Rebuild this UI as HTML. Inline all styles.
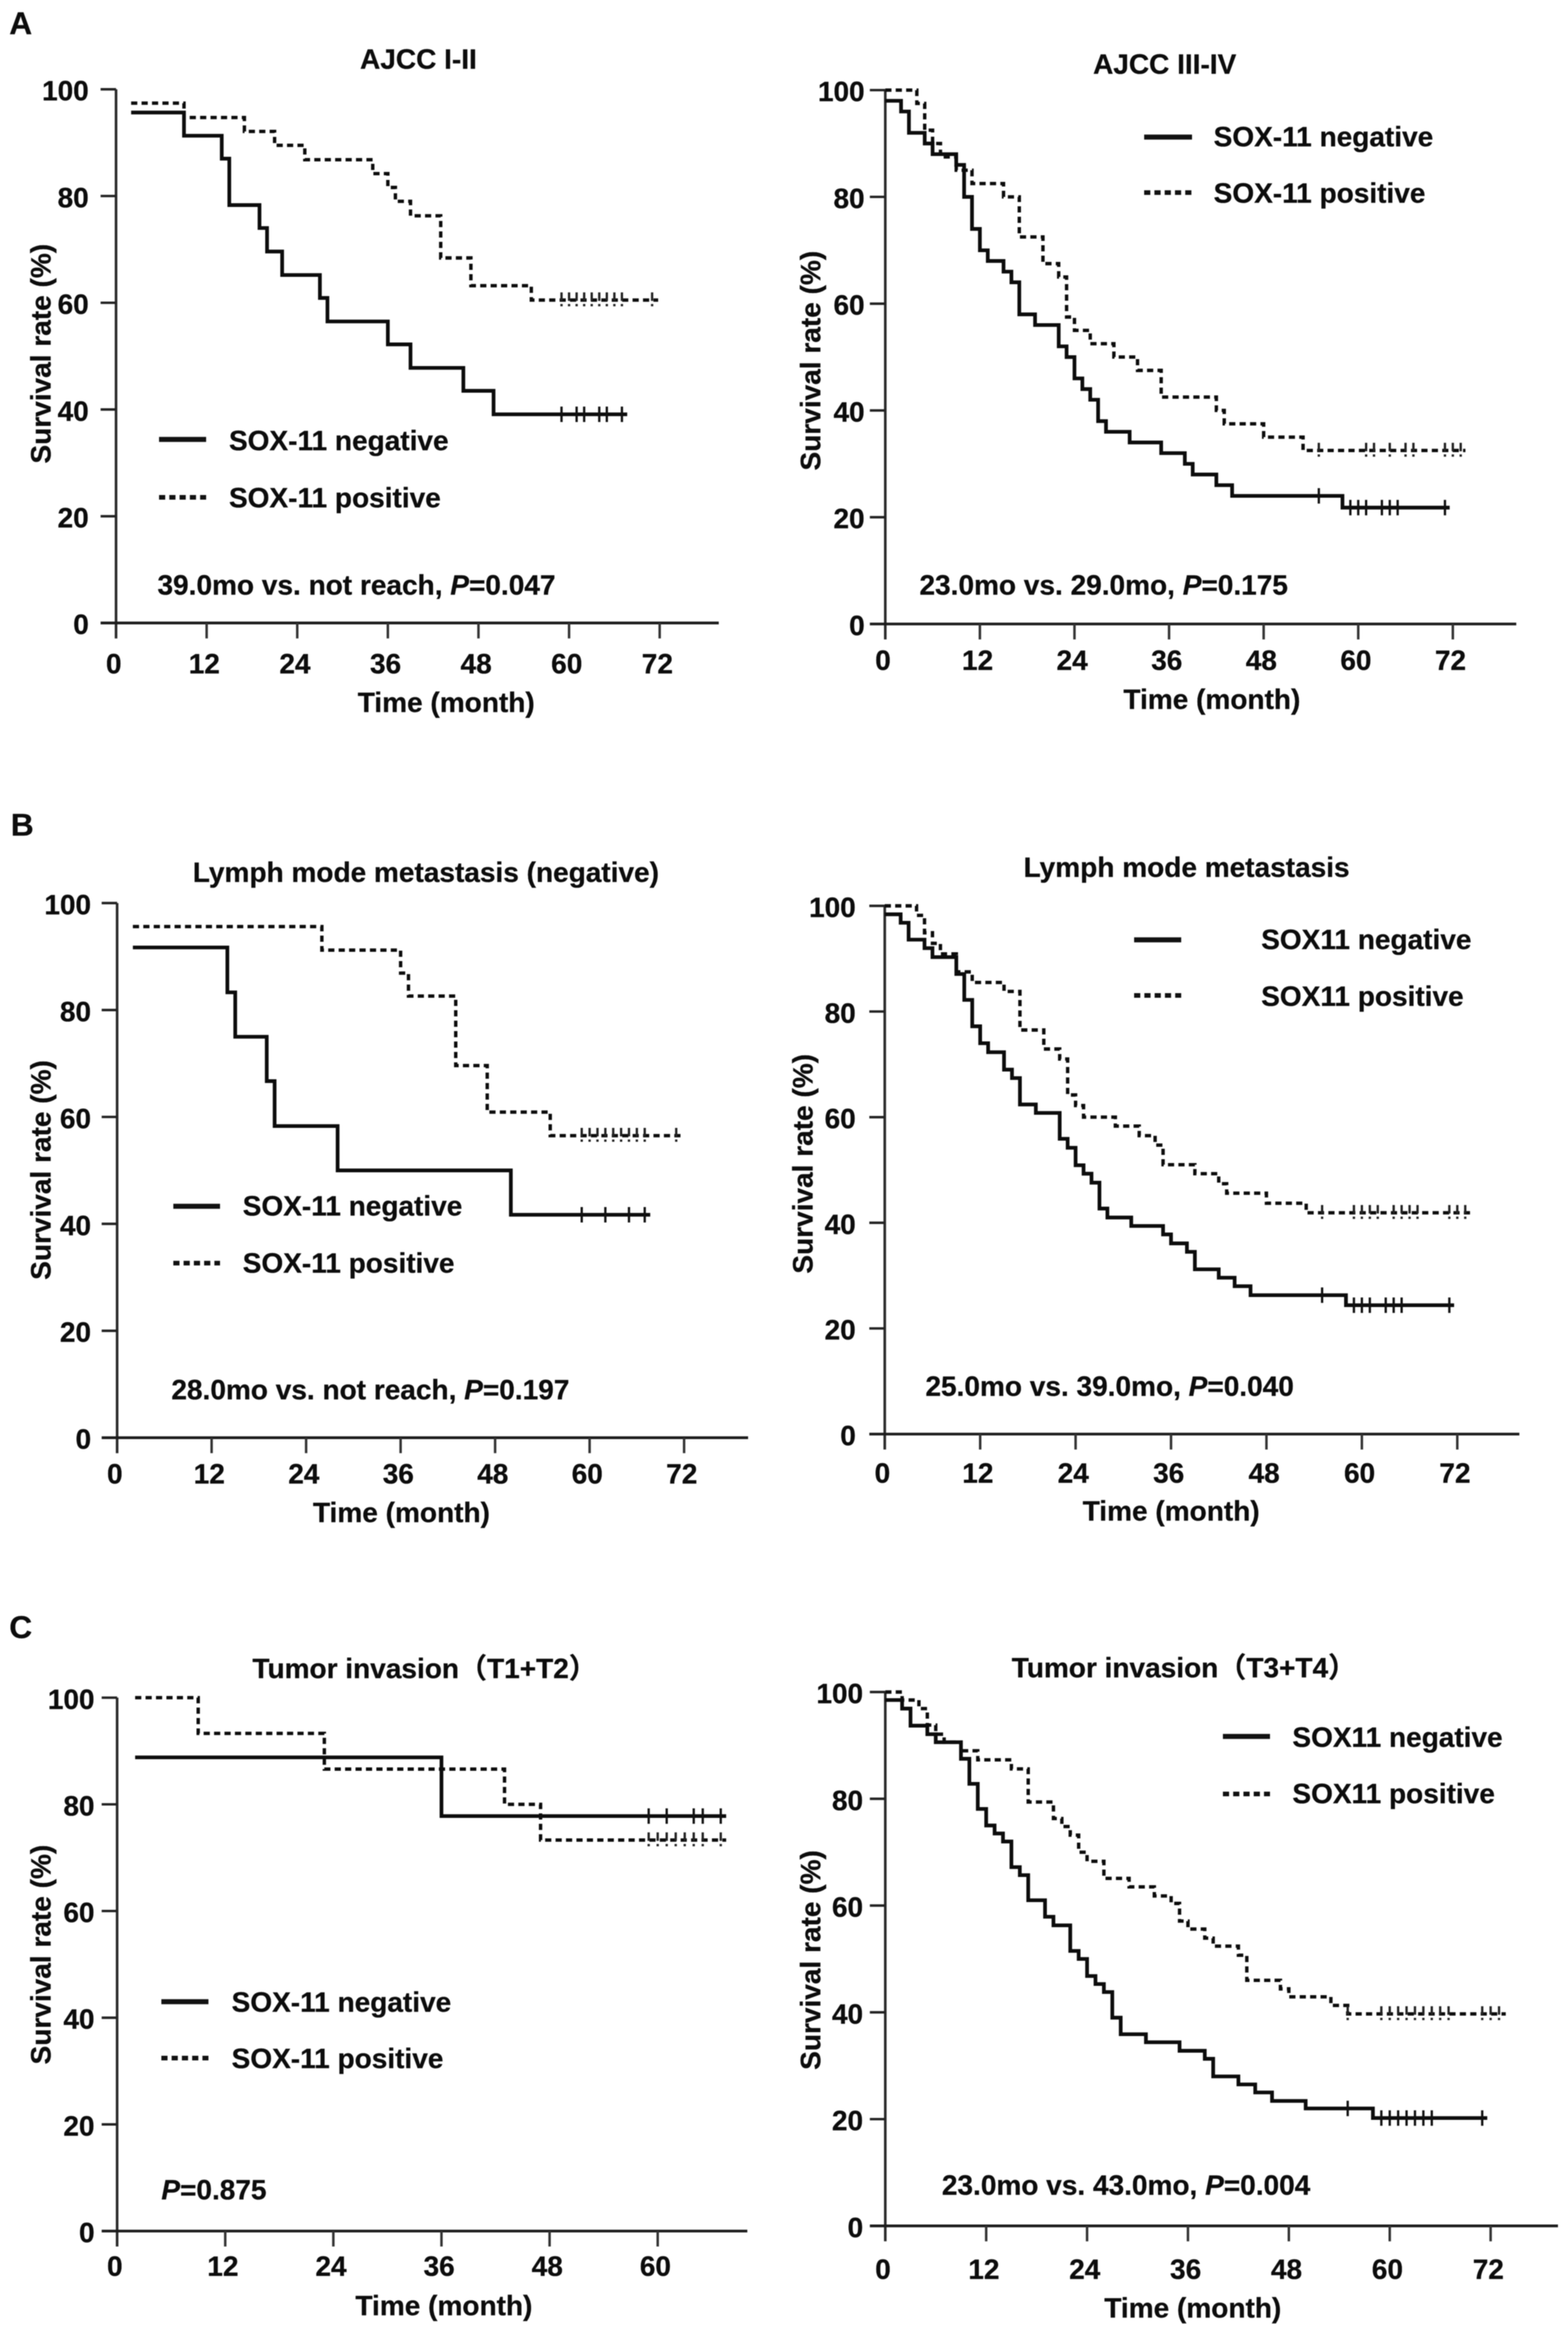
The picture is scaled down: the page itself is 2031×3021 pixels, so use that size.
<!DOCTYPE html>
<html lang="en">
<head>
<meta charset="utf-8">
<title>SOX-11 survival curves</title>
<style>
html,body{margin:0;padding:0;background:#fff;}
svg{display:block;filter:blur(.45px);}
text{font-family:"Liberation Sans","Noto Sans CJK SC",sans-serif;font-weight:700;font-size:36.3px;fill:#0c0c0c;stroke:#0c0c0c;stroke-width:.35px;}
.letter{font-size:41px;}
</style>
</head>
<body>
<svg id="figure" xmlns="http://www.w3.org/2000/svg" width="2031" height="3021" viewBox="0 0 2031 3021">
<rect width="2031" height="3021" fill="#fff"/>

<text class="letter" x="12" y="44">A</text>
<text class="letter" x="14" y="1082">B</text>
<text class="letter" x="12" y="2121">C</text>

<g id="a1">
<text x="542" y="89" text-anchor="middle">AJCC I-II</text>
<text x="578" y="922" text-anchor="middle">Time (month)</text>
<text transform="translate(65.7,458) rotate(-90)" text-anchor="middle">Survival rate (%)</text>
<line x1="206" x2="267" y1="569" y2="569" stroke="#111" stroke-width="6.5"/>
<text x="296.6" y="583">SOX-11 negative</text>
<line x1="206" x2="267" y1="644" y2="644" stroke="#111" stroke-width="6" stroke-dasharray="8 5.3"/>
<text x="296.6" y="657">SOX-11 positive</text>
<text x="204" y="770">39.0mo vs. not reach, <tspan font-style="italic">P</tspan>=0.047</text>
</g>

<g id="a2">
<text x="1508.6" y="95.6" text-anchor="middle">AJCC III-IV</text>
<text x="1569.7" y="918" text-anchor="middle">Time (month)</text>
<text transform="translate(1062.5,467) rotate(-90)" text-anchor="middle">Survival rate (%)</text>
<line x1="1482" x2="1544" y1="177.5" y2="177.5" stroke="#111" stroke-width="6.5"/>
<text x="1572" y="189.4">SOX-11 negative</text>
<line x1="1482" x2="1544" y1="249.4" y2="249.4" stroke="#111" stroke-width="6" stroke-dasharray="8 5.3"/>
<text x="1572" y="262.5">SOX-11 positive</text>
<text x="1191" y="770">23.0mo vs. 29.0mo, <tspan font-style="italic">P</tspan>=0.175</text>
</g>

<g id="b1">
<text x="551.7" y="1142" text-anchor="middle">Lymph mode metastasis (negative)</text>
<text x="520" y="1971" text-anchor="middle">Time (month)</text>
<text transform="translate(65.7,1515) rotate(-90)" text-anchor="middle">Survival rate (%)</text>
<line x1="224.5" x2="285" y1="1562" y2="1562" stroke="#111" stroke-width="6.5"/>
<text x="314.4" y="1574">SOX-11 negative</text>
<line x1="224.5" x2="285" y1="1635.6" y2="1635.6" stroke="#111" stroke-width="6" stroke-dasharray="8 5.3"/>
<text x="314.4" y="1648">SOX-11 positive</text>
<text x="222" y="1812">28.0mo vs. not reach, <tspan font-style="italic">P</tspan>=0.197</text>
</g>

<g id="b2">
<text x="1537" y="1135.6" text-anchor="middle">Lymph mode metastasis</text>
<text x="1517" y="1969" text-anchor="middle">Time (month)</text>
<text transform="translate(1052.6,1507) rotate(-90)" text-anchor="middle">Survival rate (%)</text>
<line x1="1469" x2="1530" y1="1217" y2="1217" stroke="#111" stroke-width="6.5"/>
<text x="1633.6" y="1229">SOX11 negative</text>
<line x1="1469" x2="1530" y1="1289" y2="1289" stroke="#111" stroke-width="6" stroke-dasharray="8 5.3"/>
<text x="1633.6" y="1302.5">SOX11 positive</text>
<text x="1198.7" y="1807.5">25.0mo vs. 39.0mo, <tspan font-style="italic">P</tspan>=0.040</text>
</g>

<g id="c1">
<text x="327" y="2173">Tumor invasion（T1+T2）</text>
<text x="575" y="2998" text-anchor="middle">Time (month)</text>
<text transform="translate(65.7,2531) rotate(-90)" text-anchor="middle">Survival rate (%)</text>
<line x1="209" x2="270" y1="2592" y2="2592" stroke="#111" stroke-width="6.5"/>
<text x="300" y="2605">SOX-11 negative</text>
<line x1="209" x2="270" y1="2665" y2="2665" stroke="#111" stroke-width="6" stroke-dasharray="8 5.3"/>
<text x="300" y="2678">SOX-11 positive</text>
<text x="209" y="2848"><tspan font-style="italic">P</tspan>=0.875</text>
</g>

<g id="c2">
<text x="1310.5" y="2172">Tumor invasion（T3+T4）</text>
<text x="1545" y="3001" text-anchor="middle">Time (month)</text>
<text transform="translate(1062.5,2538) rotate(-90)" text-anchor="middle">Survival rate (%)</text>
<line x1="1584" x2="1645" y1="2248.5" y2="2248.5" stroke="#111" stroke-width="6.5"/>
<text x="1674" y="2262">SOX11 negative</text>
<line x1="1584" x2="1645" y1="2323" y2="2323" stroke="#111" stroke-width="6" stroke-dasharray="8 5.3"/>
<text x="1674" y="2335">SOX11 positive</text>
<text x="1220" y="2842">23.0mo vs. 43.0mo, <tspan font-style="italic">P</tspan>=0.004</text>
</g>
</svg>

<script>
// Tick labels
const yTicks = [0, 20, 40, 60, 80, 100];
const xTicks72 = [0, 12, 24, 36, 48, 60, 72];
const xTicks60 = [0, 12, 24, 36, 48, 60];

// Panel A, AJCC I-II
const a1NegTimes = [2, 9, 14, 15, 19, 20, 22, 27, 28, 36, 39, 46, 50, 67.7];
const a1NegRates = [95.65, 91.3, 87, 78.3, 74, 69.6, 65.2, 60.9, 56.5, 52.2, 47.8, 43.5, 39.1, 39.1];
const a1NegCensors = [59, 61, 62, 64, 65, 67];
const a1PosTimes = [2, 9, 17, 21, 25, 34, 36, 37, 39, 43, 47, 55, 71.8];
const a1PosRates = [97.4, 94.7, 92.1, 89.5, 86.8, 84.2, 81.6, 79, 76.3, 68.4, 63.2, 60.5, 60.5];
const a1PosCensors = [59, 60, 61, 62, 63, 64, 65, 66, 67, 71];

// Panel A, AJCC III-IV
const a2NegTimes = [0, 2, 3, 5, 6, 9, 10, 11, 12, 13, 15, 16, 17, 19, 22, 23, 24, 25, 26, 27, 28, 31, 35, 38, 39, 42, 44, 58, 71.6];
const a2NegRates = [98, 96, 92, 90, 88, 86, 80, 74, 70, 68, 66, 64, 58, 56, 52, 50, 46, 44, 42, 38, 36, 34, 32, 30, 28, 26, 24, 21.8, 21.8];
const a2NegCensors = [55, 59, 60, 61, 63, 64, 65, 71];
const a2PosTimes = [0, 4, 5, 6, 7, 9, 11, 15, 17, 20, 22, 23, 24, 26, 29, 32, 35, 42, 43, 48, 53, 73.6];
const a2PosRates = [100, 97.5, 92.5, 90, 87.5, 85, 82.5, 80, 72.5, 67.5, 65, 57.5, 55, 52.5, 50, 47.5, 42.5, 40, 37.5, 35, 32.5, 32.5];
const a2PosCensors = [55, 61, 62, 64, 66, 67, 71, 72, 73];

// Panel B, lymph node negative
const b1NegTimes = [2, 14, 15, 19, 20, 28, 50, 67.7];
const b1NegRates = [91.7, 83.3, 75, 66.7, 58.3, 50, 41.7, 41.7];
const b1NegCensors = [59, 62, 65, 67];
const b1PosTimes = [2, 26, 36, 37, 43, 47, 55, 71.9];
const b1PosRates = [95.6, 91.2, 86.9, 82.6, 69.6, 60.9, 56.5, 56.5];
const b1PosCensors = [59, 60, 61, 62, 63, 64, 65, 66, 67, 71];

// Panel B, lymph node metastasis
const b2NegTimes = [0, 2, 3, 5, 6, 9, 10, 11, 12, 13, 15, 16, 17, 19, 22, 23, 24, 25, 26, 27, 28, 31, 35, 36, 38, 39, 42, 44, 46, 58, 71.6];
const b2NegRates = [98.4, 96.8, 93.6, 92, 90.3, 87.1, 82.2, 77.2, 74, 72.3, 69, 67.4, 62.4, 60.8, 55.9, 54.2, 50.9, 49.3, 47.6, 42.7, 41, 39.4, 37.8, 36.1, 34.5, 31.2, 29.6, 28, 26.3, 24.4, 24.4];
const b2NegCensors = [55, 59, 60, 61, 63, 64, 65, 71];
const b2PosTimes = [0, 4, 5, 6, 7, 9, 11, 15, 17, 20, 22, 23, 24, 25, 29, 32, 34, 35, 39, 42, 43, 48, 53, 73.7];
const b2PosRates = [100, 98.2, 94.9, 92.9, 90.9, 87.5, 85.5, 83.8, 76.5, 72.9, 71, 64.2, 62.2, 60, 58.3, 56.5, 54.7, 51, 49.3, 47.4, 45.6, 43.7, 41.9, 41.9];
const b2PosCensors = [55, 59, 60, 61, 62, 64, 65, 66, 67, 71, 72, 73];

// Panel C, T1+T2
const c1NegTimes = [2, 36, 67.6];
const c1NegRates = [88.8, 77.8, 77.8];
const c1NegCensors = [59, 61, 64, 65, 67];
const c1PosTimes = [2, 9, 23, 43, 47, 67.6];
const c1PosRates = [100, 93.3, 86.6, 80, 73.3, 73.3];
const c1PosCensors = [59, 60, 61, 62, 63, 64, 65, 67];

// Panel C, T3+T4
const c2NegTimes = [0, 2, 3, 5, 6, 9, 10, 11, 12, 13, 14, 15, 16, 17, 19, 20, 22, 23, 24, 25, 26, 27, 28, 31, 35, 38, 39, 42, 44, 46, 50, 58, 71.6];
const c2NegRates = [98.5, 96.9, 93.7, 92.1, 90.6, 87.5, 82.8, 78.1, 75, 73.5, 72, 67.2, 65.7, 61, 57.9, 56.3, 51.5, 50, 46.8, 45.3, 43.8, 39, 35.9, 34.4, 32.8, 31.3, 28, 26.5, 25, 23.4, 22, 20.2, 20.2];
const c2NegCensors = [55, 59, 60, 61, 62, 63, 64, 65, 71];
const c2PosTimes = [0, 2, 4, 5, 6, 7, 9, 11, 15, 17, 20, 21, 22, 23, 24, 26, 29, 32, 34, 35, 36, 38, 39, 42, 43, 47, 48, 53, 55, 73.8];
const c2PosRates = [100, 98.5, 96.9, 93.8, 92.1, 90.6, 89, 87.3, 85.6, 79.4, 76.3, 74.8, 73.2, 70, 68.3, 65.1, 63.5, 61.8, 60.4, 57.1, 55.6, 53.9, 52.4, 50.7, 46, 44.4, 42.9, 41.3, 39.7, 39.7];
const c2PosCensors = [55, 59, 60, 61, 62, 63, 64, 65, 66, 67, 71, 72, 73];

// Pixel geometry of each plot area, kept apart from the data
const layouts = {
  a1: {x0: 150.3, perMonth: 9.78, xEnd: 931, y100: 115.6, y0: 806.7, labelRight: 115, xLabelY: 872},
  a2: {x0: 1146.7, perMonth: 10.21, xEnd: 1964, y100: 116.7, y0: 808, labelRight: 1120, xLabelY: 867.5},
  b1: {x0: 151.7, perMonth: 10.2, xEnd: 969, y100: 1169.4, y0: 1861.7, labelRight: 118, xLabelY: 1921},
  b2: {x0: 1146, perMonth: 10.3, xEnd: 1968, y100: 1173, y0: 1857, labelRight: 1108.5, xLabelY: 1920},
  c1: {x0: 151.7, perMonth: 11.67, xEnd: 968, y100: 2198.3, y0: 2889, labelRight: 122.5, xLabelY: 2947},
  c2: {x0: 1146.7, perMonth: 10.89, xEnd: 2018, y100: 2191, y0: 2882.3, labelRight: 1118, xLabelY: 2951}
};

const panelData = {
  a1: {ticks: xTicks72, neg: [a1NegTimes, a1NegRates, a1NegCensors], pos: [a1PosTimes, a1PosRates, a1PosCensors]},
  a2: {ticks: xTicks72, neg: [a2NegTimes, a2NegRates, a2NegCensors], pos: [a2PosTimes, a2PosRates, a2PosCensors]},
  b1: {ticks: xTicks72, neg: [b1NegTimes, b1NegRates, b1NegCensors], pos: [b1PosTimes, b1PosRates, b1PosCensors]},
  b2: {ticks: xTicks72, neg: [b2NegTimes, b2NegRates, b2NegCensors], pos: [b2PosTimes, b2PosRates, b2PosCensors]},
  c1: {ticks: xTicks60, neg: [c1NegTimes, c1NegRates, c1NegCensors], pos: [c1PosTimes, c1PosRates, c1PosCensors]},
  c2: {ticks: xTicks72, neg: [c2NegTimes, c2NegRates, c2NegCensors], pos: [c2PosTimes, c2PosRates, c2PosCensors]}
};

const SVG_NS = 'http://www.w3.org/2000/svg';

function makeLine(parent, x1, y1, x2, y2, width, color, dash) {
  const el = document.createElementNS(SVG_NS, 'line');
  el.setAttribute('x1', x1);
  el.setAttribute('y1', y1);
  el.setAttribute('x2', x2);
  el.setAttribute('y2', y2);
  el.setAttribute('stroke', color);
  el.setAttribute('stroke-width', width);
  if (dash) el.setAttribute('stroke-dasharray', dash);
  parent.appendChild(el);
  return el;
}

function drawSeries(group, xScale, yScale, series, dashed) {
  const times = series[0];
  const rates = series[1];
  const censors = series[2];
  let d = 'M' + xScale(times[0]) + ' ' + yScale(rates[0]);
  for (let i = 1; i < times.length; i++) {
    d += ' H' + xScale(times[i]) + ' V' + yScale(rates[i]);
  }
  const path = document.createElementNS(SVG_NS, 'path');
  path.setAttribute('d', d);
  path.setAttribute('fill', 'none');
  path.setAttribute('stroke', '#0c0c0c');
  path.setAttribute('stroke-width', dashed ? '4.4' : '4.8');
  if (dashed) path.setAttribute('stroke-dasharray', '8 5.5');
  
  
  group.appendChild(path);

  censors.forEach(function (t) {
    // A censor mark sits on the curve level in force at its time
    let level = rates[0];
    for (let i = 0; i < times.length; i++) {
      if (times[i] <= t) level = rates[i];
    }
    const cx = xScale(t);
    const cy = yScale(level);
    const mark = makeLine(group, cx, cy - 10, cx, cy + 10, 3, dashed ? '#222' : '#111', dashed ? '11 4 3 2' : null);
    
    
  });
}

Object.keys(panelData).forEach(function (id) {
  const group = document.getElementById(id);
  const box = layouts[id];
  const data = panelData[id];
  const xScale = function (t) { return box.x0 + t * box.perMonth; };
  const yScale = function (v) { return box.y0 - v * (box.y0 - box.y100) / 100; };

  const yAxis = makeLine(group, box.x0, box.y100, box.x0, box.y0 + 20, 3.4, '#2b2b2b');
  
  
  const xAxis = makeLine(group, box.x0 - 20, box.y0, box.xEnd, box.y0, 3.6, '#1c1c1c');
  
  

  yTicks.forEach(function (v) {
    const y = yScale(v);
    if (v > 0) {
      const tick = makeLine(group, box.x0 - 20, y, box.x0, y, 3.2, '#222');
      
      
    }
    const label = document.createElementNS(SVG_NS, 'text');
    label.setAttribute('x', box.labelRight);
    label.setAttribute('y', y + 14.5);
    label.setAttribute('text-anchor', 'end');
    
    
    label.textContent = v;
    group.appendChild(label);
  });

  data.ticks.forEach(function (t) {
    const x = xScale(t);
    if (t > 0) {
      const tick = makeLine(group, x, box.y0, x, box.y0 + 20, 3.2, '#333');
      
      
    }
    const label = document.createElementNS(SVG_NS, 'text');
    label.setAttribute('x', x - 3);
    label.setAttribute('y', box.xLabelY);
    label.setAttribute('text-anchor', 'middle');
    
    
    label.textContent = t;
    group.appendChild(label);
  });

  drawSeries(group, xScale, yScale, data.pos, true);
  drawSeries(group, xScale, yScale, data.neg, false);
});
</script>
</body>
</html>
